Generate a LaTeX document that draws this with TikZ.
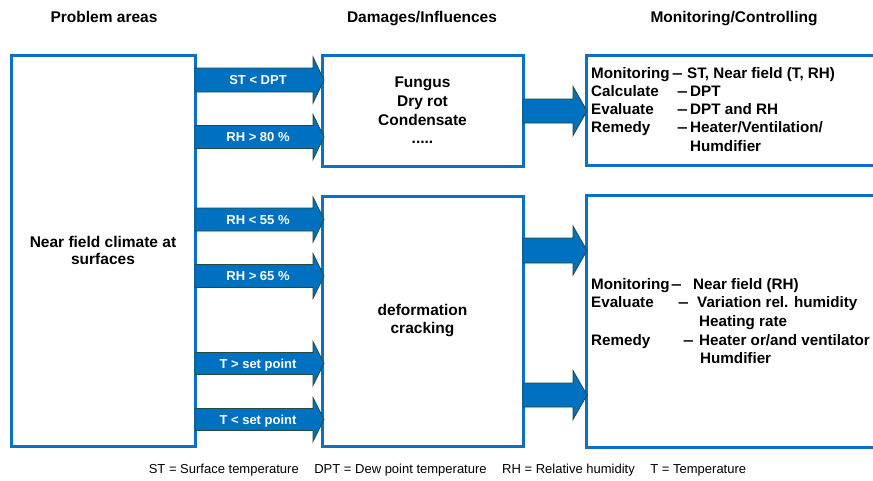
\documentclass[tikz,border=0pt]{standalone}
\usepackage{fontspec}
\usepackage{graphicx}
\setmainfont{Liberation Sans}
\definecolor{boxblue}{RGB}{10,112,200}
\definecolor{arrowblue}{RGB}{0,112,192}
\definecolor{arrowedge}{RGB}{35,75,60}
\newcommand{\wdash}{\scalebox{1.25}[1]{--}}
\tikzset{
  box/.style={draw=boxblue, line width=3pt, fill=white, inner sep=0pt, align=center,
    font=\bfseries\fontsize{15.5}{18}\selectfont},
  blockarrow/.style={fill=arrowblue, draw=arrowedge, line width=0.8pt, line join=miter},
  arrowlabel/.style={text=white, font=\bfseries\fontsize{13}{15}\selectfont, inner sep=0pt,
    text height=9.4pt, text depth=0pt},
  hdr/.style={font=\bfseries\fontsize{15.5}{17}\selectfont, anchor=base, inner sep=0pt},
  rtext/.style={font=\bfseries\fontsize{15.2}{17}\selectfont, anchor=base west, inner sep=0pt},
  foot/.style={font=\fontsize{13}{15}\selectfont, anchor=base, inner sep=0pt},
}
% name, x1, x2, yc, bodyhalf, headhalf, headlen, label
\newcommand{\blockarr}[8]{%
  \draw[blockarrow] (#2,#4-#5) -- (#3-#7,#4-#5) -- (#3-#7,#4-#6) -- (#3,#4)
     -- (#3-#7,#4+#6) -- (#3-#7,#4+#5) -- (#2,#4+#5) -- cycle;
  \node[arrowlabel] (#1) at ({(#2+#3-#7)/2+4},#4) {#8};
}
\begin{document}
\begin{tikzpicture}[x=1pt,y=-1pt]
\useasboundingbox (0,0) rectangle (873,480);
\clip (0,0) rectangle (873,480);
\fill[white] (0,0) rectangle (873,480);

% headers
\node[hdr] (h1) at (104,22) {Problem areas};
\node[hdr] (h2) at (422,22) {Damages/Influences};
\node[hdr] (h3) at (734,22) {Monitoring/Controlling};

% boxes
\node[box, minimum width=184pt, minimum height=391pt, font=\bfseries\fontsize{15.5}{17.3}\selectfont]
  (L) at (103,250.5) {Near field climate at\\surfaces};
\node[box, minimum width=201pt, minimum height=111pt, font=\bfseries\fontsize{15.5}{18.7}\selectfont]
  (MT) at (422.5,110.5) {Fungus\\Dry rot\\Condensate\\.....};
\node[box, minimum width=201pt, minimum height=250pt, font=\bfseries\fontsize{15.5}{18}\selectfont]
  (MB) at (422.5,321) {deformation\\cracking};
\node[box, minimum width=314pt, minimum height=110pt] (RT) at (743,110) {};
\node[box, minimum width=314pt, minimum height=252pt] (RB) at (743,321) {};

% arrows left -> middle
\blockarr{a1}{195}{324}{80}{12}{23}{11}{ST < DPT}
\blockarr{a2}{195}{324}{137}{11.5}{22.5}{11}{RH > 80 \%}
\blockarr{a3}{195}{324}{219.5}{11.5}{22.5}{11}{RH < 55 \%}
\blockarr{a4}{195}{324}{276}{11.5}{22.5}{11}{RH > 65 \%}
\blockarr{a5}{195}{324}{363.5}{11}{22}{11}{T > set point}
\blockarr{a6}{195}{324}{419.5}{11}{22}{11}{T < set point}

% arrows middle -> right
\blockarr{b1}{523}{587}{111}{12}{24.5}{14}{}
\blockarr{b2}{523}{587}{250.5}{12.5}{24.5}{14}{}
\blockarr{b3}{523}{587}{395}{12}{24.5}{14}{}

% top right text
\node[rtext] (t1a) at (591,78) {Monitoring};
\node[rtext] (t1b) at (672,78) {\wdash};
\node[rtext] (t1c) at (687,78) {ST, Near field (T, RH)};
\node[rtext] (t2a) at (591,96) {Calculate};
\node[rtext] (t2b) at (677,96) {\wdash};
\node[rtext] (t2c) at (690,96) {DPT};
\node[rtext] (t3a) at (591,114) {Evaluate};
\node[rtext] (t3b) at (677,114) {\wdash};
\node[rtext] (t3c) at (690,114) {DPT and RH};
\node[rtext] (t4a) at (591,132.5) {Remedy};
\node[rtext] (t4b) at (677,132.5) {\wdash};
\node[rtext] (t4c) at (690,132.5) {Heater/Ventilation/};
\node[rtext] (t5c) at (690,151) {Humdifier};

% bottom right text
\node[rtext] (u1a) at (591,289) {Monitoring};
\node[rtext] (u1b) at (671,289) {\wdash};
\node[rtext] (u1c) at (693,289) {Near field (RH)};
\node[rtext] (u2a) at (591,307.5) {Evaluate};
\node[rtext] (u2b) at (678,307.5) {\wdash};
\node[rtext] (u2c) at (697,307.5) {Variation rel. humidity};
\node[rtext] (u3c) at (699,326) {Heating rate};
\node[rtext] (u4a) at (591,345) {Remedy};
\node[rtext] (u4b) at (683,345) {\wdash};
\node[rtext] (u4c) at (699,345) {Heater or/and ventilator};
\node[rtext] (u5c) at (700,363.5) {Humdifier};

% footer
\node[foot] (f) at (447.5,473.5) {ST = Surface temperature\hspace{1.2em}DPT = Dew point temperature\hspace{1.2em}RH = Relative humidity\hspace{1.2em}T = Temperature};
\end{tikzpicture}
\end{document}
